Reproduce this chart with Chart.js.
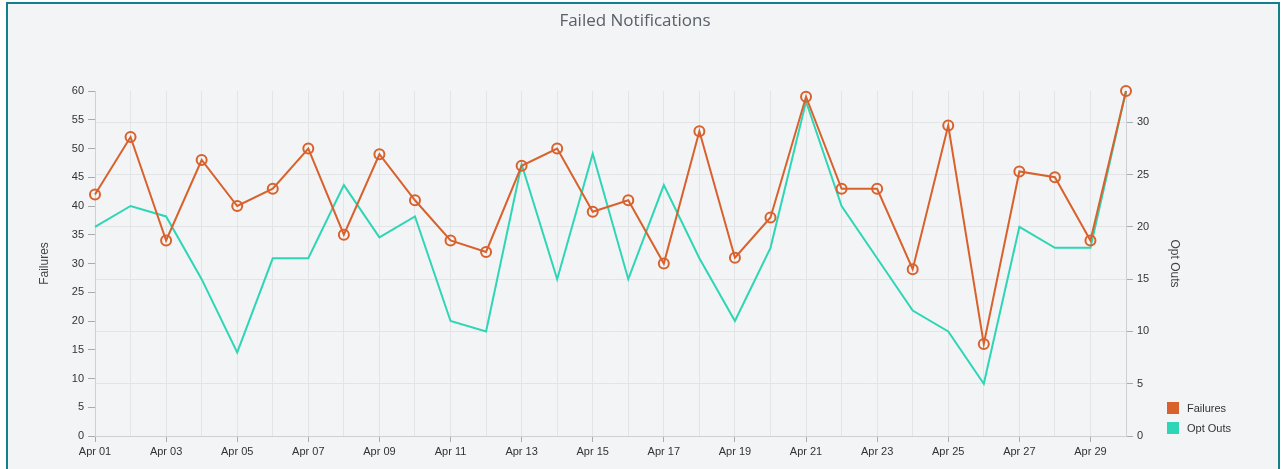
<!DOCTYPE html>
<html>
<head>
<meta charset="utf-8">
<title>Failed Notifications</title>
<script src="https://cdn.jsdelivr.net/npm/chart.js@4/dist/chart.umd.min.js"></script>
<style>
    html, body {
        margin: 0;
        padding: 0;
        background: #ffffff;
        overflow: hidden;
    }
    .panel {
        position: absolute;
        left: 6px;
        top: 2px;
        width: 1274px;
        height: 480px;
        box-sizing: border-box;
        border: 2px solid #12808a;
        background: #f3f4f6;
    }
    .chart-box {
        position: absolute;
        left: 0;
        top: 0;
        width: 1270px;
        height: 465px;
    }
    .legend {
        position: absolute;
        left: 1159px;
        top: 397px;
        font-family: "Liberation Sans", Arial, sans-serif;
        font-size: 11px;
        color: #333;
    }
    .legend div {
        height: 20px;
        line-height: 14px;
    }
    .legend span {
        display: inline-block;
        width: 12px;
        height: 12px;
        vertical-align: -2px;
        margin-right: 8px;
    }
</style>
</head>
<body>
<div class="panel">
    <div class="chart-box"><canvas id="chart"></canvas></div>
    <div class="legend" id="legend"></div>
</div>
<script>
// Chart data
const days = ["Apr 01", "Apr 02", "Apr 03", "Apr 04", "Apr 05", "Apr 06", "Apr 07", "Apr 08", "Apr 09", "Apr 10",
    "Apr 11", "Apr 12", "Apr 13", "Apr 14", "Apr 15", "Apr 16", "Apr 17", "Apr 18", "Apr 19", "Apr 20",
    "Apr 21", "Apr 22", "Apr 23", "Apr 24", "Apr 25", "Apr 26", "Apr 27", "Apr 28", "Apr 29", "Apr 30"];
const failures = [42, 52, 34, 48, 40, 43, 50, 35, 49, 41, 34, 32, 47, 50, 39, 41, 30, 53, 31, 38,
    59, 43, 43, 29, 54, 16, 46, 45, 34, 60];
const optOuts = [20, 22, 21, 15, 8, 17, 17, 24, 19, 21, 11, 10, 26, 15, 27, 15, 24, 17, 11, 18,
    32, 22, 17, 12, 10, 5, 20, 18, 18, 33];

const orange = "#d8612c";
const teal = "#2fd6b6";
const tickFont = { family: "'Liberation Sans', Arial, sans-serif", size: 11 };
const gridColor = "#e3e4e6";
const axisColor = "#cfd0d2";
const tickMarkColor = "#a9abae";
const clear = "rgba(0,0,0,0)";

// only multiples of 5 get a label, a tick and a grid line on the right axis
function onStep(ctx) {
    return ctx.tick && ctx.tick.value % 5 === 0;
}

const chart = new Chart(document.getElementById("chart"), {
    type: "line",
    data: {
        labels: days,
        datasets: [
            {
                label: "Failures",
                data: failures,
                yAxisID: "y",
                borderColor: orange,
                backgroundColor: orange,
                borderWidth: 2,
                pointRadius: 5,
                pointBorderWidth: 2,
                pointBackgroundColor: clear,
                pointBorderColor: orange,
                tension: 0,
                clip: false
            },
            {
                label: "Opt Outs",
                data: optOuts,
                yAxisID: "y1",
                borderColor: teal,
                backgroundColor: teal,
                borderWidth: 2,
                pointRadius: 0,
                tension: 0,
                clip: false
            }
        ]
    },
    options: {
        responsive: true,
        maintainAspectRatio: false,
        animation: false,
        layout: { padding: { left: 0, right: 16, top: 0, bottom: 0 } },
        plugins: {
            legend: { display: false },
            tooltip: { enabled: false },
            title: {
                display: true,
                text: "Failed Notifications",
                color: "#596067",
                font: { family: "'Open Sans', 'Noto Sans', sans-serif", size: 17, weight: "normal" },
                padding: { top: 7, bottom: 59.6 }
            }
        },
        scales: {
            x: {
                offset: false,
                grid: {
                    color: gridColor,
                    tickLength: 6,
                    tickColor: ctx => (ctx.index % 2 === 0 ? tickMarkColor : clear)
                },
                border: { color: axisColor },
                ticks: {
                    autoSkip: false,
                    maxRotation: 0,
                    padding: 3,
                    color: "#333",
                    font: tickFont,
                    callback: function(value, index) {
                        return index % 2 === 0 ? days[index] : "";
                    }
                },
                afterFit: scale => { scale.height = 33; }
            },
            y: {
                position: "left",
                min: 0,
                max: 60,
                grid: { drawOnChartArea: false, tickLength: 7, tickColor: tickMarkColor },
                border: { color: axisColor },
                ticks: { stepSize: 5, padding: 4, color: "#333", font: tickFont },
                title: {
                    display: true,
                    text: "Failures",
                    color: "#444",
                    font: { family: "'Liberation Sans', Arial, sans-serif", size: 12 },
                    padding: { top: 29, bottom: 0 }
                },
                afterFit: scale => { scale.width = 87; }
            },
            y1: {
                position: "right",
                min: 0,
                max: 33,
                bounds: "data",
                grid: {
                    tickLength: 7,
                    color: ctx => (onStep(ctx) ? gridColor : clear),
                    tickColor: ctx => (onStep(ctx) ? tickMarkColor : clear)
                },
                border: { color: axisColor },
                ticks: {
                    stepSize: 5,
                    padding: 4,
                    color: "#333",
                    font: tickFont,
                    callback: value => (value % 5 === 0 ? value : "")
                },
                title: {
                    display: true,
                    text: "Opt Outs",
                    color: "#444",
                    font: { family: "'Liberation Sans', Arial, sans-serif", size: 12 },
                    padding: { top: 80, bottom: 0 }
                },
                afterFit: scale => { scale.width = 136; }
            }
        }
    }
});

// Simple HTML legend built from the datasets
const legend = document.getElementById("legend");
chart.data.datasets.forEach(function(ds) {
    const row = document.createElement("div");
    row.innerHTML = `<span style="background:${ds.borderColor}"></span>${ds.label}`;
    legend.appendChild(row);
});
</script>
</body>
</html>
